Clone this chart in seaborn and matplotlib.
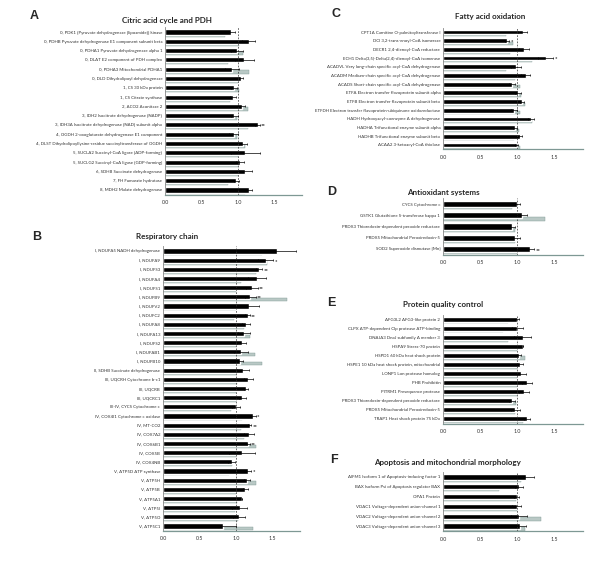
import numpy as np
import matplotlib
matplotlib.use("Agg")
import matplotlib.pyplot as plt
import seaborn as sns

# ---- data ----
labels_a = ["0, PDK1 [Pyruvate dehydrogenase [lipoamide]] kinase",
            "0, PDHB Pyruvate dehydrogenase E1 component subunit beta",
            "0, PDHA1 Pyruvate dehydrogenase alpha 1",
            "0, DLAT E2 component of PDH complex",
            "0, PDHA3 Mitochondrial PDHA1",
            "0, DLD Dihydrolipoyl dehydrogenase",
            "1, CS 30 kDa protein",
            "1, CS Citrate synthase",
            "2, ACO2 Aconitase 2",
            "3, IDH2 Isocitrate dehydrogenase [NADP]",
            "3, IDH3A Isocitrate dehydrogenase [NAD] subunit alpha",
            "4, OGDH 2-oxoglutarate dehydrogenase E1 component",
            "4, DLST Dihydrolipoyllysine-residue succinyltransferase of OGDH",
            "5, SUCLA2 Succinyl-CoA ligase [ADP-forming]",
            "5, SUCLG2 Succinyl-CoA ligase [GDP-forming]",
            "6, SDHB Succinate dehydrogenase",
            "7, FH Fumarate hydratase",
            "8, MDH2 Malate dehydrogenase"]
black_a = [0.91, 1.15, 0.99, 1.09, 0.92, 1.04, 0.95, 0.93, 1.05, 0.95, 1.27, 0.94, 1.07, 1.10, 1.03, 1.10, 0.98, 1.15]
err_a = [0.05, 0.09, 0.08, 0.13, 0.09, 0.03, 0.04, 0.04, 0.05, 0.05, 0.03, 0.06, 0.05, 0.20, 0.06, 0.09, 0.03, 0.05]
gray_a = [0.83, 1.01, 1.07, 0.86, 1.15, 1.00, 1.01, 0.89, 1.14, 0.99, 1.14, 0.99, 1.10, 1.00, 1.00, 1.00, 0.86, 1.10]
stars_a = ["", "", "", "", "", "", "", "", "", "", "**", "", "", "", "", "", "", ""]

labels_b = ["I, NDUFA5 NADH dehydrogenase", "I, NDUFA9", "I, NDUFS3", "I, NDUFA4", "I, NDUFS1",
            "I, NDUFB9", "I, NDUFV2", "I, NDUFC2", "I, NDUFA8", "I, NDUFA13", "I, NDUFS2",
            "I, NDUFAB1", "I, NDUFB10", "II, SDHB Succinate dehydrogenase",
            "III, UQCRH Cytochrome b-c1", "III, UQCRB", "III, UQCRC1", "III-IV, CYCS Cytochrome c",
            "IV, COX4I1 Cytochrome c oxidase", "IV, MT-CO2", "IV, COX7A2", "IV, COX6B1", "IV, COX5B",
            "IV, COX4NB", "V, ATP5D ATP synthase", "V, ATP5H", "V, ATP5B", "V, ATP5A1", "V, ATP5I",
            "V, ATP5O", "V, ATP5C1"]
black_b = [1.57, 1.41, 1.32, 1.29, 1.22, 1.20, 1.18, 1.16, 1.14, 1.11, 1.08, 1.07, 1.05, 1.10,
           1.17, 1.14, 1.09, 1.00, 1.23, 1.19, 1.18, 1.17, 1.08, 0.94, 1.16, 1.15, 1.13, 1.09,
           1.05, 1.04, 0.83]
err_b = [0.26, 0.10, 0.04, 0.13, 0.08, 0.07, 0.14, 0.03, 0.05, 0.08, 0.06, 0.09, 0.05, 0.08,
         0.06, 0.03, 0.05, 0.05, 0.04, 0.02, 0.07, 0.02, 0.18, 0.05, 0.05, 0.04, 0.03, 0.0,
         0.10, 0.08, 0.17]
gray_b = [1.36, 1.43, 1.27, 1.07, 1.00, 1.70, 1.00, 0.98, 1.11, 1.19, 1.00, 1.26, 1.36, 1.00,
          1.02, 1.00, 1.00, 0.93, 1.09, 1.07, 1.11, 1.27, 1.00, 0.94, 0.90, 1.28, 1.00, 1.01,
          0.99, 1.03, 1.23]
stars_b = ["", "*", "**", "", "**", "**", "", "**", "", "", "", "", "", "", "", "", "", "",
           "*", "**", "", "**", "", "", "*", "", "", "", "", "", ""]

labels_c = ["CPT1A Carnitine O-palmitoyltransferase I",
            "DCI 3,2-trans-enoyl-CoA isomerase",
            "DECR1 2,4-dienoyl-CoA reductase",
            "ECH1 Delta(3,5)-Delta(2,4)-dienoyl-CoA isomerase",
            "ACADVL Very long-chain specific acyl-CoA dehydrogenase",
            "ACADM Medium-chain specific acyl-CoA dehydrogenase",
            "ACADS Short-chain specific acyl-CoA dehydrogenase",
            "ETFA Electron transfer flavoprotein subunit alpha",
            "ETFB Electron transfer flavoprotein subunit beta",
            "ETFDH Electron transfer flavoprotein-ubiquinone oxidoreductase",
            "HADH Hydroxyacyl-coenzyme A dehydrogenase",
            "HADHA Trifunctional enzyme subunit alpha",
            "HADHB Trifunctional enzyme subunit beta",
            "ACAA2 3-ketoacyl-CoA thiolase"]
black_c = [1.07, 0.86, 1.09, 1.38, 0.98, 1.11, 0.93, 1.01, 1.06, 0.95, 1.18, 0.97, 1.04, 0.99]
err_c = [0.06, 0.03, 0.07, 0.10, 0.07, 0.06, 0.04, 0.04, 0.03, 0.04, 0.04, 0.03, 0.02, 0.02]
gray_c = [0.85, 0.94, 0.90, 1.20, 0.85, 0.97, 1.04, 1.05, 1.10, 1.03, 1.20, 1.02, 0.95, 1.04]
stars_c = ["", "*", "", "*", "", "", "", "", "", "", "", "", "", ""]

labels_d = ["CYCS Cytochrome c",
            "GSTK1 Glutathione S-transferase kappa 1",
            "PRDX3 Thioredoxin-dependent peroxide reductase",
            "PRDX5 Mitochondrial Peroxiredoxin-5",
            "SOD2 Superoxide dismutase [Mn]"]
black_d = [1.00, 1.06, 0.93, 0.97, 1.17]
err_d = [0.03, 0.07, 0.04, 0.06, 0.05]
gray_d = [0.92, 1.37, 0.97, 0.97, 1.00]
stars_d = ["", "", "", "", "**"]

labels_e = ["AFG3L2 AFG3-like protein 2",
            "CLPX ATP-dependent Clp protease ATP-binding",
            "DNAJA3 DnaJ subfamily A member 3",
            "HSPA9 Stress-70 protein",
            "HSPD1 60 kDa heat shock protein",
            "HSPE1 10 kDa heat shock protein, mitochondrial",
            "LONP1 Lon protease homolog",
            "PHB Prohibitin",
            "PITRM1 Presequence protease",
            "PRDX3 Thioredoxin-dependent peroxide reductase",
            "PRDX5 Mitochondrial Peroxiredoxin-5",
            "TRAP1 Heat shock protein 75 kDa"]
black_e = [1.00, 1.00, 1.07, 1.07, 1.02, 1.04, 1.05, 1.13, 1.09, 0.93, 0.97, 1.13]
err_e = [0.02, 0.07, 0.11, 0.0, 0.03, 0.04, 0.06, 0.07, 0.07, 0.04, 0.06, 0.04]
gray_e = [0.87, 0.80, 0.87, 1.00, 1.10, 1.00, 1.00, 1.00, 1.00, 0.98, 0.97, 1.08]
stars_e = [""] * 12

labels_f = ["AIFM1 Isoform 1 of Apoptosis-inducing factor 1",
            "BAX Isoform Psi of Apoptosis regulator BAX",
            "OPA1 Protein",
            "VDAC1 Voltage-dependent anion-channel 1",
            "VDAC2 Voltage-dependent anion-channel 2",
            "VDAC3 Voltage-dependent anion-channel 3"]
black_f = [1.11, 1.02, 0.99, 0.99, 1.02, 1.04]
err_f = [0.11, 0.05, 0.03, 0.06, 0.11, 0.07]
gray_f = [1.05, 0.75, 0.98, 1.00, 1.31, 1.10]
stars_f = [""] * 6

sns.set_style("white")
plt.rcParams["font.family"] = ["Lato", "DejaVu Sans"]

W, H = 600, 569
fig = plt.figure(figsize=(6, 5.69), dpi=100)


def panel(box, labels, black, err, gray, stars, title, title_xy, letter, letter_xy):
    l, t, r, b = box
    ax = fig.add_axes([l / W, 1 - b / H, (r - l) / W, (b - t) / H])
    n = len(labels)
    pos = np.arange(n)
    # grey comparison bar sits just under each black bar
    ax.barh(pos + 0.3, gray, height=0.36, color="#b9c8c5", edgecolor="#7e9894",
            linewidth=0.3, zorder=0.5)
    sns.barplot(x=black, y=labels, orient="h", color="black", saturation=1,
                width=0.55, errorbar=None, ax=ax, zorder=1)
    ax.errorbar(black, pos, xerr=err, fmt="none", ecolor="black",
                elinewidth=0.5, capsize=1.0, capthick=0.5, zorder=3)
    for i, s in enumerate(stars):
        if s:
            ax.text(black[i] + err[i] + 0.02, i + 0.1, s, fontsize=4.2,
                    fontweight="bold", va="center", ha="left")
    ax.axvline(1.0, color="#333333", lw=0.5, ls=(0, (2.5, 2)), zorder=2)
    ax.set_xlim(0, 1.88)
    ax.set_ylim(n - 0.5, -0.5)
    ax.set_xticks([0, 0.5, 1.0, 1.5])
    ax.set_xticklabels(["0.0", "0.5", "1.0", "1.5"], fontsize=3.8, color="#333333")
    ax.tick_params(axis="x", length=0, pad=4)
    ax.tick_params(axis="y", length=0, labelsize=3.2, pad=2, labelcolor="#333333")
    ax.set_yticks(np.arange(n + 1) - 0.5, minor=True)
    ax.tick_params(axis="y", which="minor", length=1.5, width=0.4, color="#888888")
    ax.set_xlabel("")
    ax.set_ylabel("")
    for side in ["top", "right"]:
        ax.spines[side].set_visible(False)
    ax.spines["left"].set_color("#888888")
    ax.spines["left"].set_linewidth(0.6)
    ax.spines["bottom"].set_color("#7e9894")
    ax.spines["bottom"].set_linewidth(0.9)
    fig.text(title_xy[0] / W, 1 - title_xy[1] / H, title, fontsize=5.8,
             fontweight="bold", ha="center", va="center")
    fig.text(letter_xy[0] / W, 1 - letter_xy[1] / H, letter, fontsize=9,
             fontweight="bold", ha="left", va="center", family="Liberation Sans")
    return ax


panel((165, 27.4, 302, 194.6), labels_a, black_a, err_a, gray_a, stars_a,
      "Citric acid cycle and PDH", (167, 20), "A", (30, 16))
panel((163, 246.4, 300, 530.6), labels_b, black_b, err_b, gray_b, stars_b,
      "Respiratory chain", (167, 237), "B", (32, 237))
panel((443, 27.7, 583, 149.3), labels_c, black_c, err_c, gray_c, stars_c,
      "Fatty acid oxidation", (490, 17), "C", (331, 14))
panel((443, 198.4, 583, 254.6), labels_d, black_d, err_d, gray_d, stars_d,
      "Antioxidant systems", (443, 193), "D", (327, 192))
panel((443, 314.5, 583, 423.5), labels_e, black_e, err_e, gray_e, stars_e,
      "Protein quality control", (443, 305), "E", (327, 303))
panel((443, 472, 583, 531), labels_f, black_f, err_f, gray_f, stars_f,
      "Apoptosis and mitochondrial morphology", (447, 463), "F", (330, 460))

fig.savefig("out.png", dpi=100, facecolor="white")
